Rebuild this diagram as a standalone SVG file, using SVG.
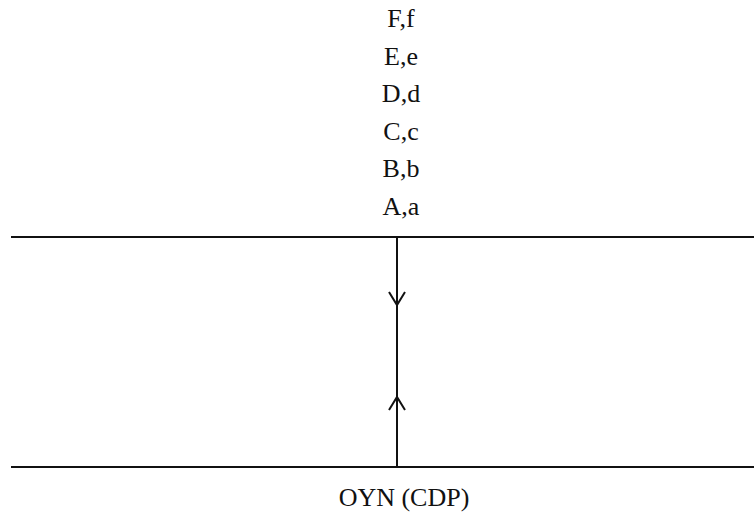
<svg xmlns="http://www.w3.org/2000/svg" width="754" height="522" viewBox="0 0 754 522">
<style>
.t{font-family:"Liberation Serif","Times New Roman",serif;font-size:26px;fill:#111;text-anchor:middle}
.l{stroke:#111;stroke-width:2;fill:none}
</style>
<rect width="754" height="522" fill="#fff"/>
<g id="labels">
<text class="t" x="401" y="27">F,f</text>
<text class="t" x="401" y="65">E,e</text>
<text class="t" x="401" y="102">D,d</text>
<text class="t" x="401" y="140">C,c</text>
<text class="t" x="401" y="177">B,b</text>
<text class="t" x="401" y="215">A,a</text>
<text class="t" x="404" y="506">OYN (CDP)</text>
</g>
<g id="connectors">
<line class="l" x1="11" y1="237" x2="754" y2="237"/>
<line class="l" x1="11" y1="467" x2="754" y2="467"/>
<line class="l" x1="397" y1="237" x2="397" y2="467"/>
<polyline class="l" points="389,292 397,305 405,292"/>
<polyline class="l" points="389,410 397,397 405,410"/>
</g>
</svg>
